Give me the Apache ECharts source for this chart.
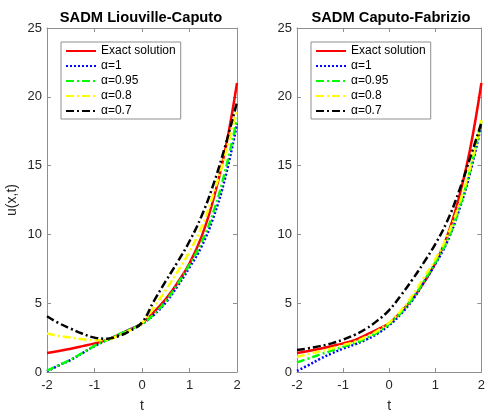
<!DOCTYPE html>
<html><head><meta charset="utf-8">
<script src="https://cdn.jsdelivr.net/npm/echarts@6/dist/echarts.min.js"></script>
<style>html,body{margin:0;padding:0;background:#fff}#c{width:488px;height:418px}</style>
</head><body><div id="c"></div>
<script>
// ---- data ----
const tValues = [-2,-1.75,-1.5,-1.25,-1,-0.75,-0.5,-0.25,0,0.25,0.5,0.75,1,1.25,1.5,1.75,2];
const seriesNames = ['Exact solution','α=1','α=0.95','α=0.8','α=0.7'];
const plotTitles = ['SADM Liouville-Caputo','SADM Caputo-Fabrizio'];
const xTicks = [-2,-1,0,1,2];
const yTicks = [0,5,10,15,20,25];

const exactSol = [1.38,1.52,1.69,1.88,2.08,2.32,2.7,3.1,3.55,4.35,5.3,6.5,7.9,9.8,12.5,16.1,21.0];
// Liouville-Caputo
const lcA1   = [0.05,0.48,0.88,1.38,1.88,2.3,2.7,3.1,3.5,4.15,5.05,6.25,7.6,9.1,11.2,14.1,18.05];
const lcA095 = [0.1,0.5,0.9,1.4,1.9,2.3,2.7,3.1,3.5,4.2,5.15,6.4,7.8,9.4,11.6,14.6,18.4];
const lcA08  = [2.8,2.62,2.5,2.38,2.3,2.32,2.65,3.05,3.55,4.7,5.95,7.3,8.75,10.5,12.9,15.8,19.05];
const lcA07  = [4.05,3.55,3.15,2.78,2.5,2.42,2.6,3.0,3.6,5.15,6.6,8.0,9.5,11.3,13.6,16.4,19.6];
// Caputo-Fabrizio
const cfA1   = [0.08,0.5,0.95,1.35,1.7,2.0,2.35,2.8,3.4,4.2,5.2,6.5,7.85,9.4,11.6,14.4,18.0];
const cfA095 = [0.7,0.98,1.27,1.55,1.83,2.1,2.45,2.9,3.5,4.3,5.3,6.6,7.95,9.5,11.7,14.6,18.2];
const cfA08  = [1.1,1.3,1.5,1.7,1.95,2.2,2.55,3.0,3.6,4.45,5.55,6.85,8.2,9.8,12.0,14.8,18.3];
const cfA07  = [1.6,1.72,1.88,2.08,2.35,2.7,3.15,3.75,4.5,5.55,6.7,7.95,9.3,10.9,13.0,15.5,18.1];

// ---- styling ----
const FONT = '"Liberation Sans", Arial, Helvetica, sans-serif';
const axisColor = '#8f8f8f';
const textColor = '#262626';
const styles = [
  {color:'#ff0000', type:'solid'},
  {color:'#0000ff', type:[2,2]},
  {color:'#00ff00', type:[8,3,2,3]},
  {color:'#ffff00', type:[8,3,2,3]},
  {color:'#000000', type:[8,3,2,3]}
];
const panelData = [
  [exactSol, lcA1, lcA095, lcA08, lcA07],
  [exactSol, cfA1, cfA095, cfA08, cfA07]
];
const gridLefts = [47, 297];

const chart = echarts.init(document.getElementById('c'), null, {renderer:'canvas'});

const grid = [], xAxis = [], yAxis = [], series = [], legend = [], graphic = [];
gridLefts.forEach((gl, p) => {
  grid.push({left: gl, top: 28, width: 190, height: 348, containLabel: false});
  const baseX = {
    type:'value', min:-2, max:2, interval:1, gridIndex:p,
    axisLine:{show:true, onZero:false, lineStyle:{color:axisColor, width:1}},
    axisTick:{show:true, inside:true, length:4, lineStyle:{color:axisColor}},
    splitLine:{show:false}
  };
  xAxis.push(Object.assign({}, baseX, {
    position:'bottom',
    axisLabel:{show:true, fontSize:13, color:textColor, fontFamily:FONT, margin:7,
      formatter: v => xTicks.includes(v) ? String(v) : ''},
    name:'t', nameLocation:'middle', nameGap:27,
    nameTextStyle:{fontSize:14, color:textColor, fontFamily:FONT}
  }));
  xAxis.push(Object.assign({}, baseX, {position:'top', axisLabel:{show:false}}));
  const baseY = {
    type:'value', min:0, max:25, interval:5, gridIndex:p,
    axisLine:{show:true, onZero:false, lineStyle:{color:axisColor, width:1}},
    axisTick:{show:true, inside:true, length:4, lineStyle:{color:axisColor}},
    splitLine:{show:false}
  };
  const yMain = Object.assign({}, baseY, {
    position:'left',
    axisLabel:{show:true, fontSize:13, color:textColor, fontFamily:FONT, margin:5,
      formatter: v => yTicks.includes(v) ? String(v) : ''}
  });
  if (p === 0) {
    yMain.name = 'u(x,t)';
    yMain.nameLocation = 'middle';
    yMain.nameGap = 28;
    yMain.nameTextStyle = {fontSize:14, color:textColor, fontFamily:FONT};
  }
  yAxis.push(yMain);
  yAxis.push(Object.assign({}, baseY, {position:'right', axisLabel:{show:false}}));

  panelData[p].forEach((arr, i) => {
    series.push({
      type:'line', name:seriesNames[i],
      xAxisIndex: p*2, yAxisIndex: p*2,
      data: tValues.map((t, k) => [t, arr[k]]),
      symbol:'none', showSymbol:false, smooth:0.45,
      lineStyle:{color:styles[i].color, width:2.5, type:styles[i].type},
      itemStyle:{color:styles[i].color},
      emphasis:{disabled:true}, silent:true, animation:false, z:2+i
    });
  });

  legend.push({
    show:true, orient:'vertical', left: gl + 14, top: 42,
    data: seriesNames.slice(),
    itemWidth:30, itemHeight:14, itemGap:3,
    padding:[3,5,2,4],
    borderColor:axisColor, borderWidth:1, backgroundColor:'#ffffff',
    selectedMode:false,
    itemStyle:{opacity:0},
    textStyle:{fontSize:12, color:'#000', fontFamily:FONT}
  });

  graphic.push({
    type:'text', x: gl + 94, y: 17.5, silent:true,
    style:{text: plotTitles[p], font:'bold 14.7px ' + FONT, fill:'#000',
      textAlign:'center', textVerticalAlign:'middle', verticalAlign:'middle'}
  });
});

chart.setOption({
  animation:false,
  backgroundColor:'#ffffff',
  grid, xAxis, yAxis, series, legend, graphic
});
</script>
</body></html>
